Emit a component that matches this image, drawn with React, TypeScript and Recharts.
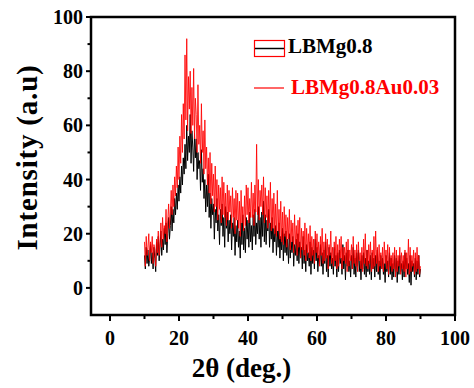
import React from 'react';
import { LineChart, Line, XAxis, YAxis, ReferenceArea, Legend } from 'recharts';

const FONT = '"Liberation Serif", "Times New Roman", Times, serif';

const seriesNames = ['LBMg0.8', 'LBMg0.8Au0.03'];
const seriesColors = ['#000000', '#ff0000'];

const xTicks = [0, 10, 20, 30, 40, 50, 60, 70, 80, 90, 100];
const yTicks = [0, 10, 20, 30, 40, 50, 60, 70, 80, 90, 100];

const twoTheta = [
  10, 10.25, 10.5, 10.75, 11, 11.25, 11.5, 11.75, 12, 12.25, 12.5, 12.75, 13, 13.25, 13.5, 13.75, 14, 14.25, 14.5, 14.75,
  15, 15.25, 15.5, 15.75, 16, 16.25, 16.5, 16.75, 17, 17.25, 17.5, 17.75, 18, 18.25, 18.5, 18.75, 19, 19.25, 19.5, 19.75,
  20, 20.25, 20.5, 20.75, 21, 21.25, 21.5, 21.75, 22, 22.25, 22.5, 22.75, 23, 23.25, 23.5, 23.75, 24, 24.25, 24.5, 24.75,
  25, 25.25, 25.5, 25.75, 26, 26.25, 26.5, 26.75, 27, 27.25, 27.5, 27.75, 28, 28.25, 28.5, 28.75, 29, 29.25, 29.5, 29.75,
  30, 30.25, 30.5, 30.75, 31, 31.25, 31.5, 31.75, 32, 32.25, 32.5, 32.75, 33, 33.25, 33.5, 33.75, 34, 34.25, 34.5, 34.75,
  35, 35.25, 35.5, 35.75, 36, 36.25, 36.5, 36.75, 37, 37.25, 37.5, 37.75, 38, 38.25, 38.5, 38.75, 39, 39.25, 39.5, 39.75,
  40, 40.25, 40.5, 40.75, 41, 41.25, 41.5, 41.75, 42, 42.25, 42.5, 42.75, 43, 43.25, 43.5, 43.75, 44, 44.25, 44.5, 44.75,
  45, 45.25, 45.5, 45.75, 46, 46.25, 46.5, 46.75, 47, 47.25, 47.5, 47.75, 48, 48.25, 48.5, 48.75, 49, 49.25, 49.5, 49.75,
  50, 50.25, 50.5, 50.75, 51, 51.25, 51.5, 51.75, 52, 52.25, 52.5, 52.75, 53, 53.25, 53.5, 53.75, 54, 54.25, 54.5, 54.75,
  55, 55.25, 55.5, 55.75, 56, 56.25, 56.5, 56.75, 57, 57.25, 57.5, 57.75, 58, 58.25, 58.5, 58.75, 59, 59.25, 59.5, 59.75,
  60, 60.25, 60.5, 60.75, 61, 61.25, 61.5, 61.75, 62, 62.25, 62.5, 62.75, 63, 63.25, 63.5, 63.75, 64, 64.25, 64.5, 64.75,
  65, 65.25, 65.5, 65.75, 66, 66.25, 66.5, 66.75, 67, 67.25, 67.5, 67.75, 68, 68.25, 68.5, 68.75, 69, 69.25, 69.5, 69.75,
  70, 70.25, 70.5, 70.75, 71, 71.25, 71.5, 71.75, 72, 72.25, 72.5, 72.75, 73, 73.25, 73.5, 73.75, 74, 74.25, 74.5, 74.75,
  75, 75.25, 75.5, 75.75, 76, 76.25, 76.5, 76.75, 77, 77.25, 77.5, 77.75, 78, 78.25, 78.5, 78.75, 79, 79.25, 79.5, 79.75,
  80, 80.25, 80.5, 80.75, 81, 81.25, 81.5, 81.75, 82, 82.25, 82.5, 82.75, 83, 83.25, 83.5, 83.75, 84, 84.25, 84.5, 84.75,
  85, 85.25, 85.5, 85.75, 86, 86.25, 86.5, 86.75, 87, 87.25, 87.5, 87.75, 88, 88.25, 88.5, 88.75, 89, 89.25, 89.5, 89.75,
  90,
];

const lbmg = [
  12, 7, 15, 9, 14, 8, 11, 16, 9, 13, 7, 15, 11, 6, 17, 12, 19, 10, 15, 21,
  12, 18, 14, 22, 16, 24, 13, 20, 26, 18, 23, 30, 21, 29, 24, 33, 27, 35, 29, 38,
  32, 41, 35, 45, 38, 48, 42, 53, 44, 60, 47, 56, 50, 64, 46, 58, 52, 43, 57, 48,
  55, 40, 50, 44, 47, 36, 51, 39, 44, 33, 40, 28, 38, 30, 42, 26, 35, 22, 33, 27,
  31, 18, 29, 24, 33, 21, 27, 16, 29, 23, 31, 19, 26, 15, 30, 22, 28, 17, 25, 20,
  27, 14, 24, 19, 26, 12, 23, 17, 25, 15, 21, 11, 24, 16, 27, 14, 22, 13, 26, 18,
  25, 15, 28, 17, 23, 14, 27, 19, 29, 16, 24, 20, 30, 18, 26, 15, 28, 19, 32, 17,
  27, 16, 25, 21, 29, 15, 24, 18, 26, 13, 22, 17, 23, 12, 21, 15, 24, 11, 19, 14,
  22, 10, 20, 13, 21, 12, 18, 9, 20, 11, 17, 13, 19, 8, 16, 12, 18, 10, 20, 9,
  17, 11, 15, 7, 19, 9, 14, 6, 16, 10, 13, 8, 17, 5, 15, 9, 14, 7, 18, 10,
  15, 6, 12, 9, 16, 8, 13, 5, 14, 9, 17, 6, 12, 4, 15, 8, 13, 7, 11, 5,
  15, 8, 12, 4, 13, 6, 14, 9, 11, 5, 16, 7, 12, 3, 13, 8, 14, 6, 10, 4,
  12, 7, 15, 5, 11, 4, 13, 8, 14, 6, 10, 3, 12, 7, 13, 5, 11, 4, 14, 6,
  10, 5, 12, 3, 13, 7, 11, 4, 12, 6, 14, 5, 10, 3, 12, 7, 11, 5, 9, 2,
  12, 6, 10, 4, 13, 5, 11, 3, 9, 4, 12, 6, 11, 2, 10, 5, 12, 6, 9, 3,
  10, 4, 13, 7, 11, 5, 9, 2, 12, 1, 10, 6, 9, 4, 11, 3, 10, 5, 12, 4,
  7,
];

const lbmgAu = [
  17, 8, 19, 12, 15, 20, 10, 17, 13, 19, 9, 16, 14, 8, 18, 13, 21, 12, 17, 24,
  15, 26, 18, 23, 20, 29, 17, 25, 31, 22, 28, 36, 27, 38, 30, 41, 34, 45, 37, 52,
  40, 56, 46, 64, 50, 68, 55, 86, 62, 92, 58, 78, 66, 80, 57, 74, 60, 81, 55, 70,
  64, 50, 75, 53, 60, 46, 68, 50, 58, 42, 62, 44, 52, 38, 48, 35, 50, 31, 46, 34,
  42, 28, 45, 30, 40, 25, 38, 29, 37, 24, 41, 27, 39, 26, 35, 23, 38, 25, 36, 28,
  34, 22, 37, 26, 33, 20, 36, 25, 35, 22, 32, 19, 36, 24, 30, 21, 34, 23, 38, 27,
  37, 24, 33, 26, 39, 26, 35, 23, 38, 28, 53, 27, 40, 25, 36, 30, 38, 27, 41, 24,
  37, 26, 34, 22, 36, 24, 39, 21, 33, 22, 35, 20, 31, 19, 36, 21, 29, 18, 32, 17,
  28, 16, 30, 19, 27, 15, 26, 18, 29, 14, 25, 17, 24, 13, 27, 16, 23, 12, 25, 15,
  26, 11, 22, 14, 21, 12, 24, 10, 22, 13, 20, 11, 23, 10, 19, 12, 18, 9, 21, 13,
  20, 11, 17, 8, 19, 12, 22, 9, 17, 10, 20, 11, 18, 7, 16, 12, 21, 9, 15, 8,
  17, 10, 19, 7, 16, 8, 18, 11, 19, 7, 15, 10, 15, 9, 17, 6, 18, 8, 14, 10,
  16, 7, 19, 9, 14, 8, 16, 6, 17, 10, 13, 7, 15, 6, 18, 9, 20, 8, 14, 7,
  16, 9, 17, 6, 14, 7, 19, 8, 21, 9, 15, 6, 16, 8, 13, 7, 15, 6, 17, 9,
  14, 7, 16, 5, 15, 8, 12, 6, 13, 7, 15, 4, 14, 6, 12, 8, 15, 5, 13, 7,
  12, 6, 14, 4, 13, 7, 18, 5, 15, 6, 12, 8, 14, 5, 13, 6, 15, 7, 12, 5,
  8,
];

const data = twoTheta.map((x, i) => ({ x, a: lbmg[i], b: lbmgAu[i] }));

const YTick = (props: any) => {
  const { x, y, payload } = props;
  const v = payload.value;
  const major = v % 20 === 0;
  return (
    <g>
      <line x1={x} x2={x - (major ? 5 : 3.5)} y1={y} y2={y} stroke="#000" strokeWidth={2} />
      {major && (
        <text x={x - 8} y={y} dy={7} textAnchor="end" fontFamily={FONT} fontWeight="bold" fontSize={20} fill="#000">
          {v}
        </text>
      )}
    </g>
  );
};

const XTick = (props: any) => {
  const { x, y, payload } = props;
  const v = payload.value;
  const major = v % 20 === 0;
  return (
    <g>
      <line x1={x} x2={x} y1={y} y2={y + (major ? 6 : 4)} stroke="#000" strokeWidth={2} />
      {major && (
        <text x={x} y={y + 30} textAnchor="middle" fontFamily={FONT} fontWeight="bold" fontSize={20} fill="#000">
          {v}
        </text>
      )}
    </g>
  );
};

const LegendContent = () => (
  <svg width={474} height={110} style={{ position: 'absolute', left: 0, top: 0, overflow: 'visible' }}>
    <rect x={254.5} y={40.5} width={30} height={16} fill="none" stroke={seriesColors[1]} strokeWidth={1.2} />
    <line x1={255} x2={284} y1={48.5} y2={48.5} stroke={seriesColors[0]} strokeWidth={1.5} />
    <text x={288} y={53} fontFamily={FONT} fontWeight="bold" fontSize={21} fill={seriesColors[0]}>
      {seriesNames[0]}
    </text>
    <line x1={254} x2={284} y1={88} y2={88} stroke={seriesColors[1]} strokeWidth={1.2} />
    <text x={291} y={94} fontFamily={FONT} fontWeight="bold" fontSize={21} fill={seriesColors[1]}>
      {seriesNames[1]}
    </text>
  </svg>
);

export default function App() {
  return (
    <div style={{ position: 'absolute', left: 0, top: 0, width: 474, height: 388, background: '#fff' }}>
      <LineChart width={474} height={388} data={data} margin={{ top: 17, right: 19, bottom: 0, left: 0 }}>
        <XAxis
          dataKey="x"
          type="number"
          domain={[-5.5, 100]}
          ticks={xTicks}
          allowDataOverflow
          height={73}
          axisLine={false}
          tickLine={false}
          tickSize={0}
          tickMargin={0}
          tick={<XTick />}
          interval={0}
          label={{
            content: () => (
              <text x={241.5} y={377} textAnchor="middle" fontFamily={FONT} fontWeight="bold" fontSize={27} fill="#000">
                2θ (deg.)
              </text>
            ),
          }}
        />
        <YAxis
          type="number"
          domain={[-10, 100]}
          ticks={yTicks}
          allowDataOverflow
          width={91}
          axisLine={false}
          tickLine={false}
          tickSize={0}
          tickMargin={0}
          tick={<YTick />}
          interval={0}
          label={{
            content: () => (
              <text
                x={37}
                y={157.5}
                transform="rotate(-90 37 157.5)"
                textAnchor="middle"
                fontFamily={FONT}
                fontWeight="bold"
                fontSize={29}
                letterSpacing={0.8}
                fill="#000"
              >
                Intensity (a.u)
              </text>
            ),
          }}
        />
        <ReferenceArea
          x1={-5.5}
          x2={100}
          y1={-10}
          y2={100}
          fill="none"
          fillOpacity={0}
          stroke="#000"
          strokeWidth={2.5}
          ifOverflow="visible"
        />
        <Line
          type="linear"
          dataKey="a"
          name={seriesNames[0]}
          stroke={seriesColors[0]}
          strokeWidth={1}
          dot={false}
          isAnimationActive={false}
        />
        <Line
          type="linear"
          dataKey="b"
          name={seriesNames[1]}
          stroke={seriesColors[1]}
          strokeWidth={1}
          strokeOpacity={0.85}
          dot={false}
          isAnimationActive={false}
        />
        <Legend
          layout="vertical"
          verticalAlign="middle"
          align="center"
          wrapperStyle={{ position: 'absolute', left: 0, top: 0, width: 474, height: 110, pointerEvents: 'none' }}
          content={<LegendContent />}
        />
      </LineChart>
    </div>
  );
}
